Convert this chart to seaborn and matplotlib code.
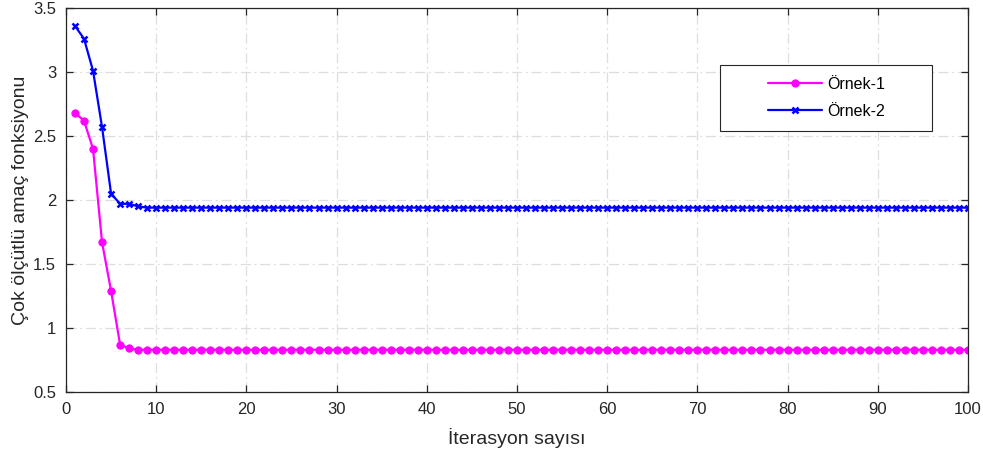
import numpy as np
import pandas as pd
import matplotlib
matplotlib.use("Agg")
import matplotlib.pyplot as plt
from matplotlib.patches import Rectangle
import seaborn as sns

# Iteration index and objective values for the two examples
iterations = list(range(1, 101))
ornek1_head = [2.68, 2.62, 2.40, 1.67, 1.29, 0.87, 0.84]
ornek1_tail_value = 0.83
ornek2_head = [3.36, 3.26, 3.01, 2.57, 2.05, 1.97, 1.97, 1.95]
ornek2_tail_value = 1.94

ornek1 = ornek1_head + [ornek1_tail_value] * (len(iterations) - len(ornek1_head))
ornek2 = ornek2_head + [ornek2_tail_value] * (len(iterations) - len(ornek2_head))

series_names = ["Örnek-1", "Örnek-2"]
x_ticks = [0, 10, 20, 30, 40, 50, 60, 70, 80, 90, 100]
y_ticks = [0.5, 1, 1.5, 2, 2.5, 3, 3.5]
x_label = "İterasyon sayısı"
y_label = "Çok ölçütlü amaç fonksiyonu"

df = pd.DataFrame({
    "iter": iterations * 2,
    "value": ornek1 + ornek2,
    "series": [series_names[0]] * len(iterations) + [series_names[1]] * len(iterations),
})

sns.set_theme(style="white")
plt.rcParams["font.family"] = ["Liberation Sans", "DejaVu Sans"]

fig = plt.figure(figsize=(9.83, 4.55), dpi=100)
ax = fig.add_axes([0.0671, 0.1385, 0.9176, 0.8439])

sns.lineplot(data=df[df.series == series_names[0]], x="iter", y="value", ax=ax,
             color="#ff00ff", linewidth=1.6, marker="o", markersize=5.2,
             markeredgecolor="#ff00ff", markerfacecolor="#ff00ff",
             label=series_names[0])
sns.lineplot(data=df[df.series == series_names[1]], x="iter", y="value", ax=ax,
             color="#0000ff", linewidth=1.6, marker="x", markersize=5,
             markeredgewidth=1.8, markeredgecolor="#0000ff",
             label=series_names[1])

ax.set_xlim(0, 100)
ax.set_ylim(0.5, 3.5)
ax.set_xticks(x_ticks)
ax.set_yticks(y_ticks)
ax.set_yticklabels([f"{v:g}" for v in y_ticks])

ax.grid(True, linestyle=(0, (8, 3, 1.5, 3)), color="#dedede", linewidth=0.9)
ax.set_axisbelow(True)

for s in ax.spines.values():
    s.set_color("#262626")
    s.set_linewidth(0.9)
    s.set_visible(True)

ax.tick_params(direction="in", length=5, width=0.9, colors="#262626",
               labelsize=12, top=True, right=True, bottom=True, left=True,
               labelcolor="#262626", pad=7)

ax.set_xlabel(x_label, fontsize=14, color="#262626", labelpad=8)
ax.set_ylabel(y_label, fontsize=14, color="#262626", labelpad=3)

# Legend: entries without frame, box drawn as a separate rectangle
leg = ax.legend(loc="center left", bbox_to_anchor=(0.7783, 0.7656),
                fontsize=11.5, frameon=False, handlelength=3.4,
                borderpad=0, labelspacing=0.75, handletextpad=0.3,
                borderaxespad=0)
for t in leg.get_texts():
    t.set_color("#000000")
ax.add_patch(Rectangle((0.7251, 0.6797), 0.9601 - 0.7251, 0.8516 - 0.6797,
                       transform=ax.transAxes, facecolor="white",
                       edgecolor="#262626", linewidth=0.8, zorder=4))
leg.set_zorder(5)

fig.savefig("out.png", dpi=100)
